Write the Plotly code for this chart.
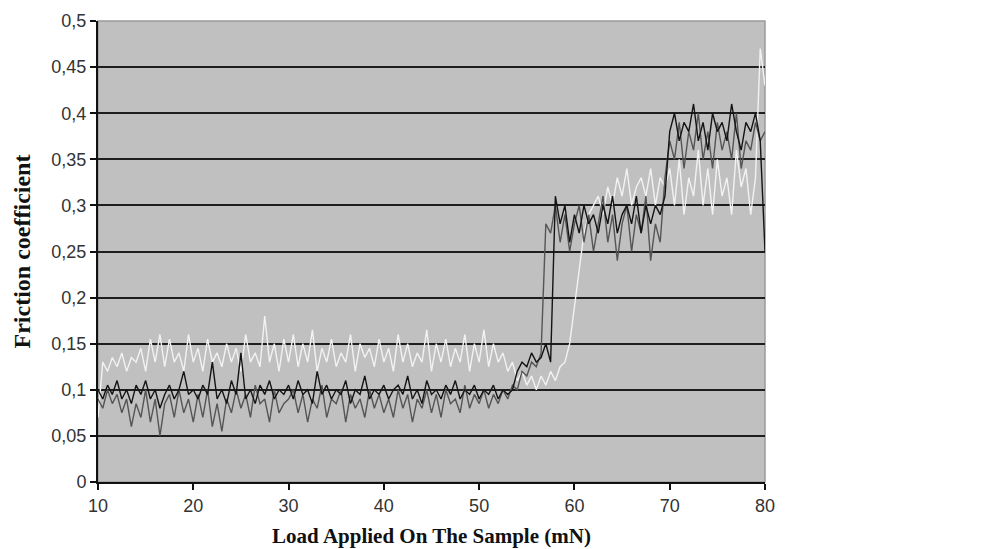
import plotly.graph_objects as go

# ---- data (friction coefficient vs load, step 0.5 mN) ----
load_start = 10.0
load_step = 0.5

white_series = [
    0.07, 0.13, 0.12, 0.135, 0.125, 0.14, 0.12, 0.135, 0.13, 0.145, 0.12, 0.155, 0.13, 0.16, 0.125, 0.155, 0.13, 0.14, 0.12, 0.16, 0.13,
    0.145, 0.12, 0.155, 0.13, 0.14, 0.125, 0.15, 0.13, 0.145, 0.12, 0.16, 0.13, 0.14, 0.125, 0.18, 0.13, 0.15, 0.12, 0.155, 0.13,
    0.16, 0.125, 0.15, 0.13, 0.165, 0.12, 0.145, 0.13, 0.155, 0.125, 0.14, 0.13, 0.16, 0.12, 0.15, 0.135, 0.145, 0.125, 0.155, 0.13,
    0.145, 0.12, 0.16, 0.13, 0.15, 0.125, 0.14, 0.13, 0.165, 0.12, 0.15, 0.13, 0.155, 0.125, 0.145, 0.13, 0.16, 0.12, 0.15, 0.13,
    0.165, 0.125, 0.15, 0.13, 0.14, 0.12, 0.13, 0.11, 0.12, 0.105, 0.115, 0.1, 0.115, 0.105, 0.12, 0.11, 0.125, 0.13, 0.15, 0.19,
    0.23, 0.27, 0.29, 0.3, 0.31, 0.29, 0.32, 0.3, 0.33, 0.31, 0.34, 0.3, 0.32, 0.33, 0.31, 0.34, 0.3, 0.33, 0.32, 0.34,
    0.3, 0.35, 0.29, 0.33, 0.31, 0.36, 0.3, 0.34, 0.29, 0.35, 0.31, 0.33, 0.29, 0.36, 0.32, 0.34, 0.29, 0.33, 0.47, 0.43,
]

gray_series = [
    0.09, 0.08, 0.1, 0.085, 0.095, 0.075, 0.09, 0.06, 0.085, 0.07, 0.1, 0.065, 0.09, 0.05, 0.085, 0.095, 0.07, 0.1, 0.075, 0.09, 0.065,
    0.095, 0.07, 0.1, 0.06, 0.085, 0.055, 0.09, 0.075, 0.1, 0.08, 0.095, 0.07, 0.105, 0.085, 0.09, 0.065, 0.1, 0.075, 0.085, 0.09,
    0.1, 0.075, 0.095, 0.065, 0.09, 0.08, 0.105, 0.07, 0.09, 0.085, 0.1, 0.065, 0.095, 0.08, 0.09, 0.07, 0.1, 0.08, 0.095, 0.075,
    0.09, 0.07, 0.1, 0.08, 0.095, 0.065, 0.09, 0.08, 0.1, 0.075, 0.095, 0.07, 0.1, 0.085, 0.09, 0.075, 0.105, 0.08, 0.095, 0.085,
    0.1, 0.08, 0.095, 0.085, 0.1, 0.09, 0.105, 0.1, 0.12, 0.115, 0.13, 0.125, 0.14, 0.28, 0.27, 0.3, 0.26, 0.29, 0.25, 0.28,
    0.3, 0.26, 0.29, 0.25, 0.28, 0.31, 0.26, 0.29, 0.24, 0.28, 0.3, 0.25, 0.29, 0.27, 0.31, 0.24, 0.28, 0.26, 0.33, 0.37,
    0.35, 0.39, 0.34, 0.38, 0.36, 0.4, 0.35, 0.38, 0.34, 0.39, 0.36, 0.38, 0.35, 0.4, 0.34, 0.37, 0.36, 0.39, 0.37, 0.38,
]

black_series = [
    0.1, 0.09, 0.105, 0.095, 0.11, 0.09, 0.1, 0.085, 0.105, 0.095, 0.11, 0.09, 0.1, 0.08, 0.095, 0.105, 0.09, 0.1, 0.12, 0.095, 0.1,
    0.09, 0.105, 0.095, 0.13, 0.09, 0.1, 0.085, 0.11, 0.095, 0.14, 0.09, 0.1, 0.085, 0.105, 0.095, 0.11, 0.09, 0.1, 0.095, 0.105,
    0.09, 0.11, 0.095, 0.1, 0.085, 0.12, 0.095, 0.105, 0.09, 0.1, 0.095, 0.11, 0.085, 0.1, 0.095, 0.115, 0.09, 0.1, 0.095, 0.105,
    0.09, 0.1, 0.105, 0.095, 0.115, 0.09, 0.1, 0.085, 0.11, 0.095, 0.1, 0.09, 0.105, 0.095, 0.11, 0.09, 0.1, 0.095, 0.105, 0.09,
    0.1, 0.095, 0.105, 0.09, 0.1, 0.095, 0.1, 0.12, 0.13, 0.125, 0.14, 0.13, 0.135, 0.15, 0.13, 0.31, 0.28, 0.3, 0.26, 0.29,
    0.27, 0.3, 0.28, 0.29, 0.27, 0.3, 0.28, 0.31, 0.27, 0.29, 0.3, 0.28, 0.31, 0.27, 0.3, 0.28, 0.3, 0.29, 0.31, 0.38,
    0.4, 0.37, 0.39, 0.38, 0.41, 0.37, 0.39, 0.36, 0.4, 0.38, 0.39, 0.37, 0.41, 0.38, 0.36, 0.39, 0.38, 0.4, 0.37, 0.25,
]

y_tick_values = [0, 0.05, 0.1, 0.15, 0.2, 0.25, 0.3, 0.35, 0.4, 0.45, 0.5]
y_tick_labels = ["0", "0,05", "0,1", "0,15", "0,2", "0,25", "0,3", "0,35", "0,4", "0,45", "0,5"]
x_tick_values = [10, 20, 30, 40, 50, 60, 70, 80]
grid_values = [0.05, 0.1, 0.15, 0.2, 0.25, 0.3, 0.35, 0.4, 0.45]


def loads(series):
    return [load_start + load_step * i for i in range(len(series))]


fig = go.Figure()
for series, color in [(white_series, "#f2f2f2"), (gray_series, "#555555"), (black_series, "#141414")]:
    fig.add_trace(go.Scatter(x=loads(series), y=series, mode="lines",
                             line=dict(color=color, width=1.4), showlegend=False))

tick_font = dict(family="Liberation Sans, Arial", size=18, color="#333333")
title_family = "Liberation Serif, Times New Roman"

fig.update_layout(
    width=998, height=549,
    margin=dict(l=98, r=233, t=21, b=67),
    paper_bgcolor="white",
    plot_bgcolor="#c0c0c0",
    xaxis=dict(range=[10, 80], tickvals=x_tick_values, showgrid=False, zeroline=False,
               automargin=False,
               showline=True, linecolor="#111111", linewidth=2,
               ticks="outside", ticklen=6, tickwidth=1.5, tickcolor="#111111",
               tickfont=tick_font,
               title=dict(text="<b>Load Applied On The Sample (mN)</b>", standoff=14,
                          font=dict(family=title_family, size=21, color="#111111")),
               ),
    yaxis=dict(range=[0, 0.5], tickvals=y_tick_values, ticktext=y_tick_labels,
               showgrid=False, zeroline=False,
               automargin=False,
               showline=True, linecolor="#111111", linewidth=2,
               ticks="outside", ticklen=6, tickwidth=1.5, tickcolor="#111111",
               tickfont=tick_font,
               minor=dict(tickvals=grid_values, showgrid=True, gridcolor="#1e1e1e", gridwidth=2, ticks=""),
               title=dict(text="<b>Friction coefficient</b>", standoff=14,
                          font=dict(family=title_family, size=24, color="#111111")),
               ),
    shapes=[dict(type="rect", xref="paper", yref="paper", x0=0, x1=1, y0=0, y1=1,
                 line=dict(color="#9a9a9a", width=1.5), layer="below")],
)

fig.write_html("out.html")
